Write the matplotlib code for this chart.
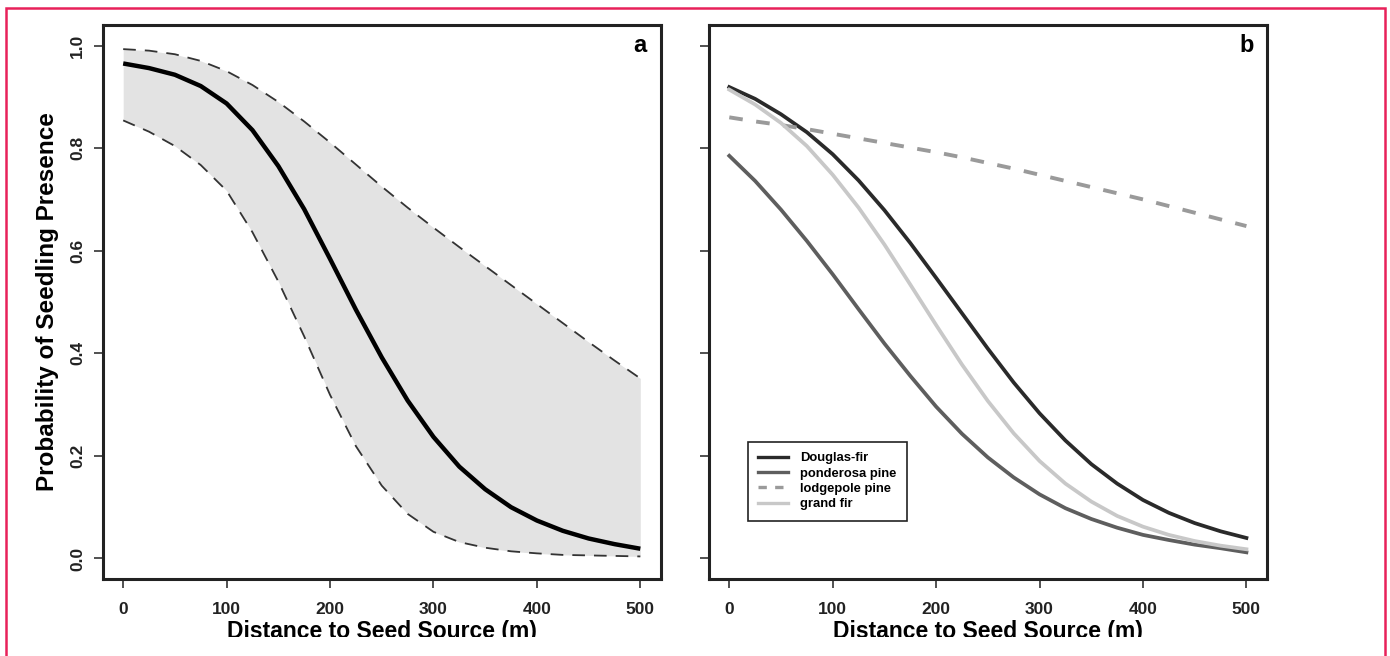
import numpy as np
import matplotlib.pyplot as plt
from matplotlib.patches import Rectangle
from matplotlib.lines import Line2D

plt.rcParams['font.family'] = ['Liberation Sans', 'DejaVu Sans']
plt.rcParams['font.weight'] = 'bold'

# distance (m) at which curves were read
distance = [0, 25, 50, 75, 100, 125, 150, 175, 200, 225, 250,
            275, 300, 325, 350, 375, 400, 425, 450, 475, 500]

# panel a: fitted curve and confidence band
fit_a = [0.965, 0.956, 0.943, 0.921, 0.887, 0.835, 0.765, 0.681, 0.584, 0.485, 0.392,
         0.308, 0.237, 0.179, 0.135, 0.100, 0.074, 0.054, 0.039, 0.028, 0.019]
upper_a = [0.993, 0.990, 0.983, 0.970, 0.950, 0.923, 0.890, 0.852, 0.811, 0.768, 0.725,
           0.684, 0.645, 0.607, 0.570, 0.533, 0.496, 0.459, 0.422, 0.386, 0.351]
lower_a = [0.854, 0.832, 0.804, 0.767, 0.717, 0.636, 0.540, 0.433, 0.319, 0.219, 0.142,
           0.087, 0.052, 0.032, 0.021, 0.014, 0.010, 0.007, 0.006, 0.005, 0.004]

# panel b: species curves
douglas_fir = [0.919, 0.896, 0.866, 0.831, 0.788, 0.737, 0.679, 0.615, 0.547, 0.478, 0.409,
               0.343, 0.283, 0.230, 0.184, 0.146, 0.114, 0.089, 0.069, 0.053, 0.040]
ponderosa_pine = [0.785, 0.736, 0.680, 0.619, 0.554, 0.486, 0.419, 0.356, 0.296, 0.243, 0.197,
                  0.158, 0.125, 0.098, 0.077, 0.060, 0.046, 0.036, 0.027, 0.020, 0.012]
lodgepole_pine = [0.860, 0.852, 0.845, 0.837, 0.828, 0.819, 0.810, 0.801, 0.792, 0.782, 0.771,
                  0.760, 0.748, 0.736, 0.724, 0.712, 0.700, 0.687, 0.674, 0.661, 0.648]
grand_fir = [0.914, 0.885, 0.849, 0.804, 0.748, 0.684, 0.612, 0.534, 0.455, 0.378, 0.307,
             0.244, 0.190, 0.146, 0.111, 0.083, 0.062, 0.046, 0.034, 0.025, 0.018]

species = ['Douglas-fir', 'ponderosa pine', 'lodgepole pine', 'grand fir']
x_ticks = [0, 100, 200, 300, 400, 500]
y_ticks = [0.0, 0.2, 0.4, 0.6, 0.8, 1.0]

W, H = 1390, 656
fig = plt.figure(figsize=(W / 100, H / 100), dpi=100)

frame_top, frame_bot = 25, 579
ax_w = 558.5
ax_a = fig.add_axes([102.5 / W, (H - frame_bot) / H, ax_w / W, (frame_bot - frame_top) / H])
ax_b = fig.add_axes([708.6 / W, (H - frame_bot) / H, ax_w / W, (frame_bot - frame_top) / H])


def style_axes(ax, ylabels=True):
    ax.set_xlim(-20, 520)
    ax.set_ylim(-0.04, 1.04)
    ax.set_xticks(x_ticks)
    ax.set_yticks(y_ticks)
    for s in ax.spines.values():
        s.set_linewidth(2.2)
        s.set_color('#222222')
    ax.tick_params(axis='both', direction='out', length=6.5, width=1.1, labelsize=12.5,
                   colors='#222222')
    ax.tick_params(axis='x', pad=10)
    ax.tick_params(axis='y', pad=6, labelrotation=90)
    if ylabels:
        ax.set_yticklabels(['%.1f' % v for v in y_ticks], va='center')
    else:
        ax.set_yticklabels([])
    ax.set_xlabel('Distance to Seed Source (m)', fontsize=16.5, fontweight='bold', labelpad=2)


# panel a
ax_a.fill_between(distance, lower_a, upper_a, color='#e3e3e3', linewidth=0)
ax_a.plot(distance, upper_a, color='#333333', lw=1.3, ls=(0, (7, 5)))
ax_a.plot(distance, lower_a, color='#333333', lw=1.3, ls=(0, (7, 5)))
ax_a.plot(distance, fit_a, color='black', lw=3.2, solid_capstyle='butt')
style_axes(ax_a)
ax_a.set_ylabel('Probability of Seedling Presence', fontsize=17.5, fontweight='bold', labelpad=8)
ax_a.text(500, 1.0, 'a', fontsize=17, fontweight='bold', ha='center', va='center')

# panel b
ax_b.plot(distance, douglas_fir, color='#2a2a2a', lw=2.7)
ax_b.plot(distance, ponderosa_pine, color='#5e5e5e', lw=2.7)
ax_b.plot(distance, lodgepole_pine, color='#9a9a9a', lw=2.8, ls=(0, (3.5, 3.5)))
ax_b.plot(distance, grand_fir, color='#c8c8c8', lw=2.7)
style_axes(ax_b, ylabels=False)
ax_b.text(500, 1.0, 'b', fontsize=17, fontweight='bold', ha='center', va='center')

handles = [Line2D([], [], color='#2a2a2a', lw=2.4),
           Line2D([], [], color='#5e5e5e', lw=2.4),
           Line2D([], [], color='#9a9a9a', lw=2.4, ls=(0, (2.5, 2.5))),
           Line2D([], [], color='#c8c8c8', lw=2.4)]
leg = ax_b.legend(handles, species, loc='lower left', bbox_to_anchor=(0.07, 0.105),
                  fontsize=9.4, frameon=True, fancybox=False, edgecolor='#222222',
                  framealpha=1, handlelength=2.3, labelspacing=0.25, borderpad=0.8,
                  handletextpad=0.9, borderaxespad=0)
leg.get_frame().set_linewidth(1.2)

# white strip that cuts off the bottom of the figure like the source crop
fig.patches.append(Rectangle((7 / W, 0), (W - 14) / W, 19 / H, transform=fig.transFigure,
                             facecolor='white', edgecolor='none', zorder=10))
# pink outline round the figure
fig.patches.append(Rectangle((5.5 / W, -0.05), (W - 11) / W, 1.05 - 8.5 / H,
                             transform=fig.transFigure, facecolor='none',
                             edgecolor='#e8215a', linewidth=1.8, zorder=11))

fig.savefig('out.png', dpi=100)
